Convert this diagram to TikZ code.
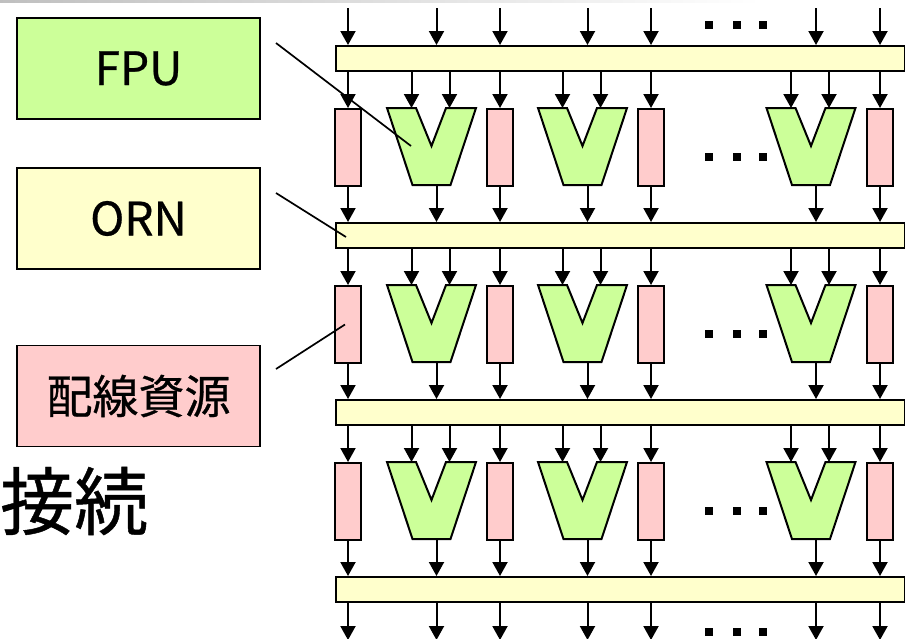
\documentclass[tikz,border=0pt]{standalone}
\usepackage{fontspec}
\setmainfont{Noto Sans CJK JP}
\newfontfamily\heavyfont[FakeBold=0.6]{Noto Sans CJK JP}
\usetikzlibrary{arrows.meta}
\definecolor{fpug}{HTML}{CCFF99}
\definecolor{orny}{HTML}{FFFFCC}
\definecolor{wirep}{HTML}{FFCCCC}
\tikzset{
  fpu/.pic={
    \draw[line width=2pt, fill=fpug] (-44.5,0) -- (-15.5,0) -- (0,38) -- (14.5,0) -- (44.5,0) -- (19,77) -- (-19,77) -- cycle;
    \coordinate (-inl) at (-20,0);
    \coordinate (-inr) at (18,0);
    \coordinate (-out) at (5,77);
    \coordinate (-ptr) at (-20.5,38);
  }
}
\begin{document}
\begin{tikzpicture}[x=1pt,y=-1pt,
  arr/.style={line width=2pt,-{Triangle[width=15pt,length=14pt]}},
  bar/.style={draw,line width=2pt,fill=orny,minimum width=569pt,minimum height=25pt,inner sep=0pt,anchor=north west},
  wire/.style={draw,line width=2pt,fill=wirep,minimum width=26pt,minimum height=77pt,inner sep=0pt,anchor=north},
  lbl/.style={draw,line width=1.5pt,minimum width=243pt,minimum height=101pt,inner sep=0pt,font=\heavyfont\fontsize{46}{50}\selectfont},
  pointer/.style={line width=1.7pt},
  dotsq/.style={fill=black,minimum size=8pt,inner sep=0pt}]
\useasboundingbox (0,0) rectangle (905,638);
\clip (0,0) rectangle (905,638);
\shade[left color=gray!50, right color=white] (0,0) rectangle (760,2);

\coordinate (topy) at (0,8);
\coordinate (boty) at (0,640);

% ORN bars
\foreach \k in {1,2,3,4} {
  \node[bar] (bar\k) at (335,{45+177*(\k-1)}) {};
}

% rows of wiring resources and FPUs
\foreach \r in {1,2,3} {
  \pgfmathsetmacro\yt{108+177*(\r-1)}
  \foreach \c/\x in {1/348,2/500,3/651,4/880} {
    \node[wire] (w\r\c) at (\x,\yt) {};
  }
  \foreach \c/\x in {1/431.5,2/582.5,3/811} {
    \pic (v\r\c) at (\x,\yt) {fpu};
  }
}

% connectors
\foreach \r in {1,2,3} {
  \pgfmathtruncatemacro\n{\r+1}
  \foreach \c in {1,2,3,4} {
    \draw[arr] (bar\r.south -| w\r\c.north) -- (w\r\c.north);
    \draw[arr] (w\r\c.south) -- (w\r\c.south |- bar\n.north);
  }
  \foreach \c in {1,2,3} {
    \draw[arr] (bar\r.south -| v\r\c-inl) -- (v\r\c-inl);
    \draw[arr] (bar\r.south -| v\r\c-inr) -- (v\r\c-inr);
    \draw[arr] (v\r\c-out) -- (v\r\c-out |- bar\n.north);
  }
}
% inputs on top and outputs at bottom
\foreach \c in {1,2,3,4} {
  \draw[arr] (w1\c.north |- topy) -- (w1\c.north |- bar1.north);
  \draw[arr] (w3\c.south |- bar4.south) -- (w3\c.south |- boty);
}
\foreach \c in {1,2,3} {
  \draw[arr] (v1\c-out |- topy) -- (v1\c-out |- bar1.north);
  \draw[arr] (v3\c-out |- bar4.south) -- (v3\c-out |- boty);
}

% ellipsis dots
\foreach \i/\y in {0/24.5,1/157,2/334,3/511,4/631.5} {
  \foreach \j/\x in {1/709,2/737,3/763} {
    \node[dotsq] (d\i\j) at (\x,\y) {};
  }
}

% legend boxes
\node[lbl, fill=fpug] (lfpu) at (138.5,68.5) {FPU};
\node[lbl, fill=orny] (lorn) at (138.5,218.5) {ORN};
\node[lbl, fill=wirep] (lwire) at (138.5,396) {配線資源};
\node[font=\heavyfont\fontsize{74}{80}\selectfont, anchor=west, inner sep=0pt] (conn) at (0,501) {接続};

% pointers
\coordinate (pf) at (276,43);
\coordinate (po) at (276,193);
\coordinate (pw) at (276,369);
\draw[pointer] (pf) -- (v11-ptr);
\draw[pointer] (po) -- ([shift={(11,1.5)}]bar2.west);
\draw[pointer] (pw) -- ([xshift=-3pt]w21.center);
\end{tikzpicture}
\end{document}
